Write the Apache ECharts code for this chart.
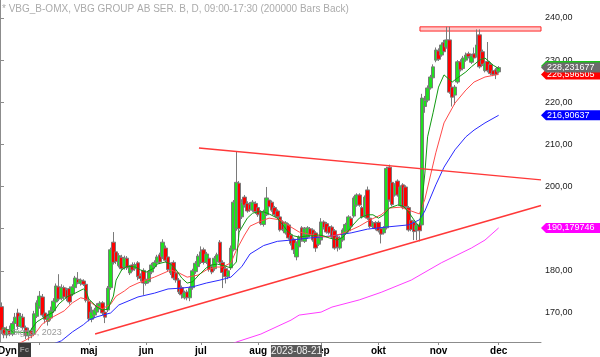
<!DOCTYPE html>
<html><head><meta charset="utf-8">
<script src="https://cdn.jsdelivr.net/npm/echarts@6/dist/echarts.min.js"></script>
<style>html,body{margin:0;padding:0;background:#fff}#c{width:600px;height:357px}</style>
</head><body><div id="c"></div>
<script>
// ---------- data ----------
const holidays = ['2023-04-07','2023-04-10','2023-05-01','2023-05-18','2023-06-06','2023-06-23'];
const padBars = 15;
const monthLabels = {'04':'', '05':'maj','06':'jun','07':'jul','08':'aug','09':'sep','10':'okt','11':'nov','12':'dec'};
const yTicks = [170,180,190,200,210,220,230,240];
const yMin = 163.11, yMax = 244.27;

const open = [171.5,166.5,164.8,166.0,165.0,167.5,170.0,166.8,169.0,166.5,
164.6,165.8,165.0,169.2,171.5,173.8,170.0,168.0,168.8,170.5,
172.6,176.2,173.5,176.0,175.5,175.8,174.5,176.0,178.0,177.0,
177.6,176.8,172.8,168.5,169.5,170.2,171.5,172.4,170.2,170.7,
176.0,186.8,184.5,181.2,183.2,180.9,183.0,179.5,181.4,180.5,
181.9,178.8,180.1,177.0,177.4,179.7,181.0,181.9,183.8,183.3,
185.4,183.3,179.5,182.0,179.5,177.8,176.0,173.6,175.0,173.6,
176.0,179.8,181.0,182.0,185.0,182.0,183.0,181.0,180.5,182.1,
186.8,182.0,180.5,178.6,180.7,185.0,190.0,200.8,192.8,197.5,
196.0,195.8,194.4,196.0,195.0,194.0,191.0,193.3,196.8,196.3,
195.0,194.2,192.8,191.6,189.0,190.9,188.5,187.5,183.3,185.7,
190.2,187.0,188.0,190.0,189.7,189.0,186.3,187.3,191.6,191.2,
190.5,190.4,189.5,188.0,185.4,187.3,189.0,189.5,192.5,193.0,
195.6,198.0,195.0,193.0,199.2,192.5,190.5,191.4,191.5,190.0,
189.0,190.2,204.6,201.0,198.0,201.3,195.6,200.4,199.9,195.0,
192.0,191.6,189.7,190.9,190.9,219.0,220.5,223.4,225.8,230.0,
232.2,231.2,234.2,233.1,234.8,223.6,221.7,224.8,229.6,228.0,
230.0,231.5,229.5,231.5,231.0,236.0,232.0,227.5,229.7,229.0,
227.5,227.7,227.2];
const close = [165.8,164.8,166.0,165.0,167.5,169.0,166.8,169.2,166.5,164.6,
165.6,164.8,169.8,172.4,174.0,169.5,168.5,169.0,170.5,172.8,
176.4,173.3,176.0,173.8,173.5,172.6,176.2,178.3,177.2,177.8,
176.8,173.0,168.6,170.2,170.7,171.8,172.3,170.0,169.0,175.9,
185.0,182.0,182.2,183.6,180.5,183.0,180.7,180.9,180.2,181.5,
178.6,178.2,177.1,178.0,179.7,181.4,182.0,183.3,182.1,186.8,
182.5,180.3,181.5,178.3,177.8,175.0,174.3,174.8,173.6,175.9,
180.0,181.8,183.5,184.5,182.0,184.0,180.3,179.7,183.0,183.8,
182.0,179.6,178.6,180.0,185.4,196.3,201.0,190.0,196.3,195.6,
194.2,194.5,196.3,194.0,193.3,191.2,194.0,197.3,195.2,194.4,
193.3,192.8,189.7,189.8,191.4,187.8,186.5,185.0,186.6,188.0,
187.3,190.0,190.2,188.5,187.3,185.4,187.8,191.6,190.2,189.2,
189.0,188.0,185.4,185.6,187.8,189.7,191.0,192.8,190.6,197.3,
198.0,195.6,192.8,197.5,192.5,190.5,191.4,190.0,189.5,188.7,
190.2,204.3,196.8,195.7,200.4,198.0,199.9,195.0,195.2,189.7,
189.8,189.3,190.8,189.5,221.0,220.5,223.4,226.0,228.4,232.4,
230.2,233.6,232.0,234.8,222.4,221.2,223.6,229.6,227.7,230.5,
231.2,230.8,231.0,230.5,233.6,228.4,229.0,229.3,227.5,226.8,
226.6,226.6,228.23];
const low = [165.0,164.0,164.0,164.5,164.5,167.0,166.0,166.5,166.0,163.8,
163.5,164.0,164.5,168.8,171.0,169.0,167.5,167.0,168.2,170.0,
172.0,172.8,173.0,173.2,172.8,172.0,174.0,175.5,176.8,176.5,
176.4,172.5,168.0,167.8,168.8,169.8,170.8,169.5,167.6,170.2,
175.5,181.5,181.6,180.8,180.0,180.3,180.2,179.0,179.8,180.0,
177.8,177.5,174.3,176.5,177.0,179.2,180.5,181.4,181.6,182.8,
182.0,179.8,179.0,177.8,177.2,174.5,173.4,173.2,173.0,172.8,
175.5,179.3,180.6,181.6,181.5,181.6,179.8,179.2,180.0,181.7,
181.5,175.9,177.0,178.0,180.2,184.6,189.5,187.0,192.3,195.0,
193.8,194.0,194.0,193.5,192.8,190.8,190.5,193.0,194.8,194.0,
192.9,192.4,189.3,189.4,188.6,187.4,186.0,184.0,182.5,185.3,
186.9,186.6,187.6,188.1,186.9,184.5,185.9,186.9,189.8,188.8,
188.6,187.6,185.0,184.6,185.0,186.9,188.6,189.1,190.2,192.6,
195.2,195.2,192.4,192.6,192.1,190.1,190.1,189.6,189.1,186.5,
188.6,189.8,196.4,195.3,197.6,197.6,195.2,194.6,194.8,189.3,
189.4,187.3,187.3,187.0,190.0,217.5,220.0,223.0,225.3,229.5,
229.8,230.8,231.6,232.7,222.0,219.0,219.4,224.4,227.3,227.6,
229.6,230.4,229.1,230.1,230.6,228.0,228.6,227.1,227.1,226.4,
226.2,225.5,226.8];
const high = [172.5,167.2,166.8,167.0,168.0,170.0,171.0,170.0,169.8,167.0,
166.5,166.5,170.5,173.0,175.2,174.5,170.7,169.8,171.5,173.5,
177.0,179.2,176.8,176.5,176.0,176.3,176.8,178.8,179.7,178.2,
178.0,177.2,173.5,171.5,171.2,172.3,172.8,172.8,170.8,176.4,
185.5,189.2,185.2,184.2,183.8,183.6,183.5,181.4,182.0,182.0,
182.3,179.4,180.6,178.6,180.2,181.9,182.5,183.8,184.3,187.5,
186.0,183.8,182.0,182.5,180.0,178.3,176.5,175.3,175.5,176.3,
180.5,182.3,184.0,185.8,185.5,184.5,183.5,181.5,183.5,184.3,
187.3,182.5,181.0,180.5,186.0,196.8,208.3,201.3,197.0,198.0,
196.5,196.3,196.8,196.5,195.5,194.4,194.5,199.9,197.2,196.7,
195.4,194.6,193.2,192.0,191.8,191.3,188.9,187.9,187.0,188.4,
190.6,190.4,190.6,190.4,190.1,189.4,188.2,192.5,192.0,191.6,
190.9,190.8,189.9,188.4,188.2,190.1,191.4,193.2,192.9,197.7,
198.4,198.4,195.4,197.9,200.0,192.9,191.8,191.8,191.9,190.4,
190.6,204.7,205.2,201.4,200.8,201.7,200.3,200.8,200.3,195.4,
192.4,192.0,191.2,191.3,222.0,221.5,224.0,226.5,229.0,233.0,
232.8,234.2,234.8,237.9,237.9,224.1,224.1,230.0,230.2,231.0,
231.8,232.0,231.5,233.0,237.3,237.3,232.5,229.8,234.3,229.5,
228.0,228.1,228.6];

// moving averages: [bar number, value]
const maGreen = [[0,166.4],[5,165.5],[10,165.3],[13,167.9],[16,169.1],[19,170.2],[21,172.1],[24,173.8],[27,174.7],[30,175.7],[31,175.2],[32,173.3],[35,171.4],[37,170.7],[39,170.9],[41,174.0],[42,177.8],[44,180.2],[46,181.1],[49,180.9],[51,180.2],[53,179.7],[56,180.7],[57,181.6],[60,182.1],[62,181.6],[64,180.2],[66,178.3],[68,177.1],[70,177.4],[72,178.8],[75,180.7],[77,181.4],[79,181.6],[82,181.1],[84,180.7],[86,182.1],[87,189.2],[90,192.5],[92,193.7],[94,194.0],[96,194.0],[98,193.5],[101,192.5],[103,190.9],[105,189.2],[107,188.3],[109,188.0],[112,188.3],[114,188.3],[116,188.5],[118,188.3],[120,187.8],[123,187.3],[125,188.0],[127,189.5],[129,191.1],[131,192.5],[134,193.3],[136,193.3],[138,192.5],[140,193.3],[142,194.9],[145,195.6],[147,195.4],[149,194.0],[151,192.1],[153,190.4],[155,203.2],[156,211.8],[158,217.5],[160,223.6],[162,226.5],[165,224.8],[167,225.8],[170,227.2],[172,228.4],[175,230.0],[177,230.5],[180,228.8],[182,228.0]];
const maRed = [[6,162.6],[9,163.6],[12,164.8],[15,167.4],[19,169.1],[23,170.5],[26,172.4],[29,173.6],[31,173.3],[34,171.9],[37,171.0],[40,172.1],[42,174.0],[45,175.2],[47,176.2],[50,177.1],[56,178.5],[62,180.2],[65,179.5],[68,178.5],[72,179.0],[75,180.2],[79,180.9],[81,180.9],[84,181.9],[86,184.9],[89,188.5],[91,190.6],[95,191.8],[98,192.5],[102,192.1],[106,190.4],[109,189.2],[114,188.5],[119,188.0],[124,188.7],[128,189.7],[131,190.6],[135,192.1],[139,193.3],[142,194.9],[146,195.1],[150,194.2],[153,193.5],[155,197.0],[159,208.0],[162,215.1],[166,219.8],[170,222.9],[173,224.8],[177,226.0],[181,226.5],[182,226.6]];
const maBlue = [[18,162.4],[22,163.4],[26,165.5],[30,167.2],[32,168.3],[35,169.1],[40,170.0],[43,171.9],[50,173.8],[56,174.7],[61,175.7],[66,175.9],[70,176.2],[75,177.1],[80,177.8],[84,178.5],[88,181.0],[91,184.0],[96,186.0],[101,187.0],[106,187.3],[113,187.8],[121,188.3],[128,189.0],[134,189.9],[141,190.4],[149,190.9],[153,192.1],[155,194.2],[159,200.4],[162,204.6],[166,208.7],[170,211.8],[173,213.4],[177,215.1],[182,216.91]];
const maMagenta = [[80,161.5],[86,163.1],[95,165.0],[106,168.3],[109,169.5],[117,170.2],[121,171.4],[131,173.1],[139,174.9],[150,177.8],[161,181.9],[172,185.4],[177,187.3],[182,190.18]];

// drawn trend lines / resistance (x in bar units from the left edge)
const upperTrend = [[72.8, 209.15], [198, 201.56]];
const lowerTrend = [[34.8, 165.0], [198, 195.5]];
const resistance = [[153.7, 198, 236.9, 237.9]];

const tags = [
  {value: 228.6, color: '#19c419', text: ''},
  {value: 226.596505, color: '#ff0000', text: '226,596505'},
  {value: 228.231677, color: '#6b6b6b', text: '228,231677'},
  {value: 216.90637, color: '#0000ff', text: '216,90637'},
  {value: 190.179746, color: '#ff00ff', text: '190,179746'}
];
const titleText = '* VBG_B-OMX, VBG GROUP AB SER. B, D, 09:00-17:30 (200000 Bars Back)';
const watermark = '\u00A9eSignal, 2023';
const cursorDate = '2023-08-21';

// ---------- build ----------
const cats = [];
for (let d = new Date(Date.UTC(2023,2,14)); d.getTime() <= Date.UTC(2023,11,1); d.setUTCDate(d.getUTCDate()+1)) {
  const wd = d.getUTCDay(); const s = d.toISOString().slice(0,10);
  if (wd === 0 || wd === 6 || holidays.includes(s)) continue;
  cats.push(s);
}
const nData = cats.length;
for (let k = 0; k < padBars; k++) cats.push('pad' + k);
const N = cats.length;
const isMonthStart = i => i > 0 && i < nData && cats[i].slice(5,7) !== cats[i-1].slice(5,7);
const ohlc = open.map((o, i) => [o, close[i], low[i], high[i]]);
function fullLine(pts) { const a = new Array(N).fill(null); pts.forEach(p => { a[p[0]] = p[1]; }); return a; }
const FONT = '"Liberation Sans", Arial, sans-serif';

function maSeries(pts, color) {
  return {type:'line', xAxisIndex:0, yAxisIndex:0, data: fullLine(pts), connectNulls:true, showSymbol:false, symbol:'none',
    lineStyle:{color, width:1}, z:4, silent:true, animation:false};
}

const option = {
  animation:false,
  backgroundColor:'#ffffff',
  textStyle:{fontFamily:FONT},
  grid:{left:0, right:59, top:0, bottom:15, containLabel:false},
  xAxis:[{
    type:'category', data:cats, boundaryGap:true,
    axisLine:{lineStyle:{color:'#8c8c8c', width:1}},
    axisTick:{show:true, alignWithLabel:true, length:3, interval:(i)=>isMonthStart(i), lineStyle:{color:'#8c8c8c'}},
    axisLabel:{interval:(i)=>isMonthStart(i), formatter:(v)=> monthLabels[v.slice(5,7)] || '', fontSize:10, fontWeight:'bold', color:'#000', margin:4, fontFamily:FONT},
    splitLine:{show:false}
  },{
    type:'value', min:0, max:N, show:false
  }],
  yAxis:[{
    type:'value', position:'right', min:yMin, max:yMax,
    axisLine:{show:true, lineStyle:{color:'#8c8c8c'}},
    axisTick:{show:true, length:4, customValues:yTicks, lineStyle:{color:'#8c8c8c'}},
    axisLabel:{customValues:yTicks, formatter:(v)=>v.toFixed(2).replace('.', ','), fontSize:9, color:'#222', margin:4, fontFamily:FONT},
    splitLine:{show:false}
  }],
  series:[
    {type:'custom', xAxisIndex:1, yAxisIndex:0, data:resistance, z:2, silent:true,
      encode:{x:[0,1], y:[2,3]},
      renderItem:(params, api)=>{
        const p0 = api.coord([api.value(0), api.value(3)]);
        const p1 = api.coord([api.value(1), api.value(2)]);
        return {type:'rect', shape:{x:p0[0], y:p0[1], width:p1[0]-p0[0], height:p1[1]-p0[1]},
          style:{fill:'#ffcaca', stroke:'#ff2a2a', lineWidth:1}};
      }},
    {type:'candlestick', xAxisIndex:0, yAxisIndex:0, data:ohlc, barWidth:4, z:3, silent:true,
      itemStyle:{color:'#1fe01f', color0:'#ff0000', borderColor:'#7a7a7a', borderColor0:'#7a7a7a', borderWidth:1}},
    maSeries(maMagenta, '#ff3cff'),
    maSeries(maBlue, '#2a2aff'),
    maSeries(maRed, '#ff4a4a'),
    maSeries(maGreen, '#109a10'),
    {type:'line', xAxisIndex:1, yAxisIndex:0, data:upperTrend, symbol:'none', lineStyle:{color:'#ff3838', width:1.3}, z:5, silent:true},
    {type:'line', xAxisIndex:1, yAxisIndex:0, data:lowerTrend, symbol:'none', lineStyle:{color:'#ff3838', width:1.6}, z:5, silent:true}
  ]
};

const chart = echarts.init(document.getElementById('c'), null, {renderer:'canvas'});
chart.setOption(option);

const axisX = chart.convertToPixel({xAxisIndex:1}, N);
const graphics = [];
tags.forEach((t, k) => {
  const y = chart.convertToPixel({yAxisIndex:0}, t.value);
  const h = 5;
  graphics.push({type:'polygon', z:100+k*2, shape:{points:[[axisX,y],[axisX+5,y-h],[600,y-h],[600,y+h],[axisX+5,y+h]]}, style:{fill:t.color}});
  if (t.text) graphics.push({type:'text', z:101+k*2, x:axisX+6, y:y, style:{text:t.text, fill:'#ffffff', font:'9px ' + FONT, verticalAlign:'middle', align:'left'}});
});
graphics.push({type:'text', z:120, x:2, y:9, style:{text:titleText, fill:'#ababab', font:'10px ' + FONT, verticalAlign:'middle', align:'left'}});
graphics.push({type:'text', z:120, x:0, y:333, style:{text:watermark, fill:'#9a9a9a', font:'9px ' + FONT, verticalAlign:'middle', align:'left'}});
graphics.push({type:'text', z:120, x:-2, y:351, style:{text:'Dyn', fill:'#000', font:'bold 10px ' + FONT, verticalAlign:'middle', align:'left'}});
graphics.push({type:'rect', z:120, shape:{x:18, y:343, width:13, height:14}, style:{fill:'#3a3a3a'}});
graphics.push({type:'text', z:121, x:24.5, y:350, style:{text:'Fc', fill:'#9a9a9a', font:'bold 8px ' + FONT, verticalAlign:'middle', align:'center'}});
const cx = chart.convertToPixel({xAxisIndex:0}, cursorDate);
graphics.push({type:'rect', z:120, shape:{x:cx-25.5, y:345, width:51, height:12}, style:{fill:'#5a5a5a'}});
graphics.push({type:'text', z:121, x:cx, y:351, style:{text:cursorDate, fill:'#eeeeee', font:'10px ' + FONT, verticalAlign:'middle', align:'center'}});
chart.setOption({graphic:graphics});
</script>
</body></html>
